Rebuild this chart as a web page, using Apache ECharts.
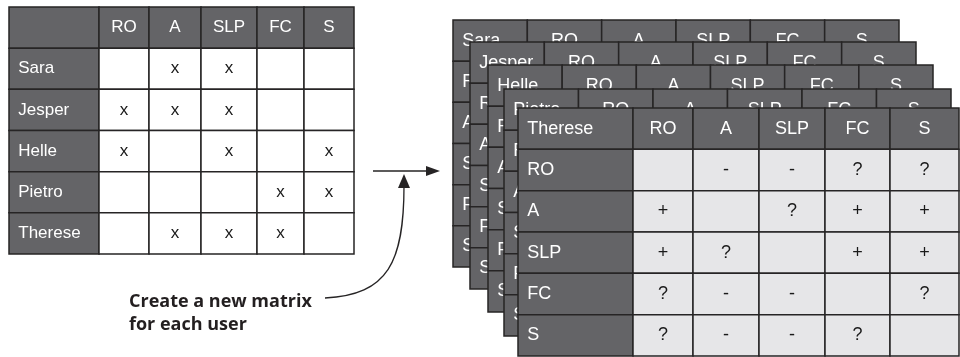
<!DOCTYPE html>
<html><head><meta charset="utf-8">
<script src="https://cdn.jsdelivr.net/npm/echarts@6/dist/echarts.min.js"></script>
<style>html,body{margin:0;padding:0;background:#fff}#c{width:960px;height:357px}</style>
</head><body><div id="c"></div>
<script>
// ---------- data ----------
const users = ['Sara', 'Jesper', 'Helle', 'Pietro', 'Therese'];
const genres = ['RO', 'A', 'SLP', 'FC', 'S'];
// consumption matrix (x = user has consumed genre)
const saraRow    = ['', 'x', 'x', '', ''];
const jesperRow  = ['x', 'x', 'x', '', ''];
const helleRow   = ['x', '', 'x', '', 'x'];
const pietroRow  = ['', '', '', 'x', 'x'];
const thereseRow = ['', 'x', 'x', 'x', ''];
// Therese's genre-to-genre matrix
const thRO  = ['', '-', '-', '?', '?'];
const thA   = ['+', '', '?', '+', '+'];
const thSLP = ['+', '?', '', '+', '+'];
const thFC  = ['?', '-', '-', '', '?'];
const thS   = ['?', '-', '-', '?', ''];
const caption = 'Create a new matrix\nfor each user';

// ---------- layout ----------
const leftBox = {left: 9, top: 7, width: 345, height: 247, cols: [90, 50, 52, 56, 47, 50]};
const stackBoxes = [
  {left: 453, top: 20, width: 446, height: 247, cols: [1, 1, 1, 1, 1, 1]},
  {left: 470, top: 42, width: 446, height: 247, cols: [1, 1, 1, 1, 1, 1]},
  {left: 488, top: 65, width: 445, height: 247, cols: [1, 1, 1, 1, 1, 1]},
  {left: 504, top: 89, width: 447, height: 247, cols: [1, 1, 1, 1, 1, 1]},
  {left: 518, top: 108, width: 441, height: 248, cols: [115, 60, 66, 66, 65, 69]}
];
const DARK = '#646467', LIGHT = '#e6e6e8', LINE = '#262425';
const FAMILY = '"Liberation Sans", Arial, Helvetica, sans-serif';

function edgesOf(cols) {
  const e = [0];
  cols.forEach(w => e.push(e[e.length - 1] + w));
  return e;
}

function buildTable(corner, colLabels, rowLabels, rows, cellFill) {
  const cells = [];
  cells.push({c: 0, r: 0, text: corner, kind: 'rowhead'});
  colLabels.forEach((g, i) => cells.push({c: i + 1, r: 0, text: g, kind: 'head'}));
  rowLabels.forEach((name, j) => {
    cells.push({c: 0, r: j + 1, text: name, kind: 'rowhead'});
    rows[j].forEach((v, i) => cells.push({c: i + 1, r: j + 1, text: v, kind: 'cell', fill: cellFill}));
  });
  return cells;
}

const grids = [], xAxes = [], yAxes = [], series = [];
function addTable(box, cells, z, fontSize) {
  const gi = grids.length;
  const edges = edgesOf(box.cols);
  grids.push({left: box.left, top: box.top, width: box.width, height: box.height, containLabel: false});
  xAxes.push({type: 'value', gridIndex: gi, min: 0, max: edges[edges.length - 1], show: false});
  yAxes.push({type: 'value', gridIndex: gi, min: 0, max: 6, inverse: true, show: false});
  series.push({
    type: 'custom', xAxisIndex: gi, yAxisIndex: gi, z: z, silent: true,
    data: cells.map(c => [c.c + 0.5, c.r + 0.5]),
    renderItem: function (params, api) {
      const it = cells[params.dataIndex];
      const p0 = api.coord([edges[it.c], it.r]);
      const p1 = api.coord([edges[it.c + 1], it.r + 1]);
      const dark = it.kind !== 'cell';
      return {
        type: 'rect',
        shape: {x: p0[0], y: p0[1], width: p1[0] - p0[0], height: p1[1] - p0[1]},
        style: {fill: dark ? DARK : it.fill, stroke: LINE, lineWidth: 1.5},
        z2: 1,
        textContent: {
          style: {text: it.text, fill: dark ? '#ffffff' : '#1a1a1a',
            fontSize: fontSize, fontFamily: FAMILY, fontWeight: 'normal'}
        },
        textConfig: {position: it.kind === 'rowhead' ? 'insideLeft' : 'inside', distance: 10}
      };
    }
  });
}

// left consumption table
addTable(leftBox, buildTable('', genres, users,
  [saraRow, jesperRow, helleRow, pietroRow, thereseRow], '#ffffff'), 2, 17);

// stacked per-user genre matrices (back ones are hidden except their headers)
const blank = genres.map(() => ['', '', '', '', '']);
users.forEach((u, k) => {
  const rows = u === 'Therese' ? [thRO, thA, thSLP, thFC, thS] : blank;
  addTable(stackBoxes[k], buildTable(u, genres, genres, rows, LIGHT), 3 + k, 18);
});

const chart = echarts.init(document.getElementById('c'), null, {renderer: 'canvas'});
chart.setOption({
  animation: false,
  backgroundColor: '#ffffff',
  grid: grids, xAxis: xAxes, yAxis: yAxes, series: series,
  graphic: [
    {type: 'line', z: 20, shape: {x1: 373, y1: 171, x2: 430, y2: 171}, style: {stroke: LINE, lineWidth: 1.3}},
    {type: 'polygon', z: 20, shape: {points: [[440, 171], [426, 166], [426, 176]]}, style: {fill: LINE}},
    {type: 'bezierCurve', z: 20,
      shape: {x1: 325, y1: 298, cpx1: 388, cpy1: 295, cpx2: 404, cpy2: 262, x2: 404, y2: 186},
      style: {stroke: LINE, lineWidth: 1.3, fill: null}},
    {type: 'polygon', z: 20, shape: {points: [[404, 174], [398, 188], [410, 188]]}, style: {fill: LINE}},
    {type: 'text', z: 20, left: 129, top: 290,
      style: {text: caption, fill: '#231f20', fontSize: 18, fontWeight: 'bold',
        fontFamily: '"Open Sans", sans-serif', lineHeight: 23}}
  ]
});
</script></body></html>
